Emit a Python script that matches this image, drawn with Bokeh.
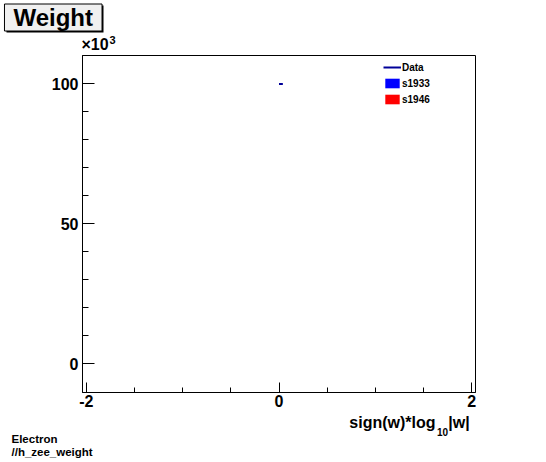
from bokeh.plotting import figure
from bokeh.layouts import column
from bokeh.models import (FixedTicker, Label, Legend, LegendItem, BoxAnnotation,
                          ColumnDataSource, Range1d)
from bokeh.embed import file_html
from bokeh.resources import INLINE

# histogram contents (bin edges, counts)
data_lo = [0.0]
data_hi = [0.04]
data_counts = [99900]
data_err = [316]
s1933_lo, s1933_hi, s1933_counts = [0.0], [0.04], [0]
s1946_lo, s1946_hi, s1946_counts = [0.0], [0.04], [0]

x_major = [-2, 0, 2]
x_minor = [-2, -1.5, -1, -0.5, 0, 0.5, 1, 1.5, 2]
y_major = [0, 50, 100]
y_minor = [0, 10, 20, 30, 40, 50, 60, 70, 80, 90, 100, 110]

XR = (-2.04, 2.04)
YR = (-10.25, 110.1)
FONT = "Liberation Sans"
NAVY = "#000099"
W = 546


def text_fig(top, bottom):
    # a bare strip whose data coordinates are page pixels
    f = figure(width=W, height=bottom - top, x_range=Range1d(0, W),
               y_range=Range1d(bottom, top), x_axis_type=None, y_axis_type=None,
               output_backend="svg", toolbar_location=None,
               min_border=0, outline_line_color=None, frame_align=False)
    f.xgrid.visible = False
    f.ygrid.visible = False
    return f


def text(f, x, y, s, size, align="left"):
    # y is the wanted baseline; bokeh puts the baseline ~0.4em lower
    f.add_layout(Label(x=x, y=y - 0.4 * size, text=s, text_font=FONT,
                       text_font_style="bold", text_font_size=f"{size}px",
                       text_color="black", text_align=align,
                       text_baseline="alphabetic"))


# --- title strip
head = text_fig(0, 54)
head.add_layout(BoxAnnotation(left=6, right=103, top=5, bottom=32,
                              fill_color="black", fill_alpha=1, line_color=None))
head.add_layout(Label(x=52.75, y=17, text="Weight", text_font=FONT,
                      text_font_style="bold", text_font_size="24px",
                      text_color="black", text_baseline="middle", text_align="center",
                      background_fill_color="#f0f0f0", border_line_color="black",
                      padding=dict(left=9, right=9, top=0, bottom=0)))
text(head, 81, 50.4, "\u00d710", 16)
text(head, 109, 44, "3", 11)

# --- main plot
p = figure(width=W, height=359, x_range=Range1d(*XR), y_range=Range1d(*YR),
           output_backend="svg", toolbar_location=None, frame_align=False,
           min_border_left=82, min_border_right=71,
           min_border_top=1, min_border_bottom=21)
p.xgrid.visible = False
p.ygrid.visible = False
p.outline_line_color = "black"
p.outline_line_width = 1
p.outline_line_alpha = 1

for ax in (p.xaxis, p.yaxis):
    ax.axis_line_color = "black"
    ax.major_tick_line_color = "black"
    ax.minor_tick_line_color = "black"
    ax.major_tick_out = 0
    ax.minor_tick_out = 0
    ax.major_label_text_font = FONT
    ax.major_label_text_font_style = "bold"
    ax.major_label_text_font_size = "16px"
    ax.major_label_text_color = "black"
p.xaxis.ticker = FixedTicker(ticks=x_major, minor_ticks=x_minor)
p.yaxis.ticker = FixedTicker(ticks=y_major, minor_ticks=y_minor)
p.xaxis.major_label_overrides = {t: str(t) for t in x_major}
p.xaxis.major_tick_in = 10
p.xaxis.minor_tick_in = 5
p.yaxis.major_tick_in = 12
p.yaxis.minor_tick_in = 6
p.xaxis.major_label_standoff = 2
p.yaxis.major_label_standoff = 4

# data points with errors
src = ColumnDataSource(dict(
    lo=data_lo, hi=data_hi,
    mid=[(a + b) / 2 for a, b in zip(data_lo, data_hi)],
    y=[c / 1000 for c in data_counts],
    ylo=[(c - e) / 1000 for c, e in zip(data_counts, data_err)],
    yhi=[(c + e) / 1000 for c, e in zip(data_counts, data_err)],
))
r_data = p.segment(x0="lo", y0="y", x1="hi", y1="y", source=src,
                   line_color=NAVY, line_width=2)
p.segment(x0="mid", y0="ylo", x1="mid", y1="yhi", source=src,
          line_color=NAVY, line_width=2)

r1 = p.quad(left=s1933_lo, right=s1933_hi, bottom=[0] * len(s1933_counts),
            top=[c / 1000 for c in s1933_counts], fill_color="#0000ff", line_color=None)
r2 = p.quad(left=s1946_lo, right=s1946_hi, bottom=[0] * len(s1946_counts),
            top=[c / 1000 for c in s1946_counts], fill_color="#ff0000", line_color=None)

legend = Legend(items=[LegendItem(label="Data", renderers=[r_data]),
                       LegendItem(label="s1933", renderers=[r1]),
                       LegendItem(label="s1946", renderers=[r2])],
                location=(301, 287), padding=0, margin=0, spacing=4,
                glyph_width=18, glyph_height=12, label_height=12,
                label_standoff=1, label_text_font=FONT,
                label_text_font_style="bold", label_text_font_size="10px",
                label_text_color="black",
                background_fill_alpha=0, border_line_alpha=0)
p.add_layout(legend)

# --- axis title and footer strip
foot = text_fig(413, 462)
text(foot, 435, 428, "sign(w)*log", 16, "right")
text(foot, 436.5, 435, "10", 10)
text(foot, 458.5, 428, "|w|", 16, "center")
text(foot, 11, 443.3, "Electron", 11.5)
text(foot, 11, 456, "//h_zee_weight", 11.5)

page = column(head, p, foot)
open("out.html", "w").write(file_html(page, INLINE))
